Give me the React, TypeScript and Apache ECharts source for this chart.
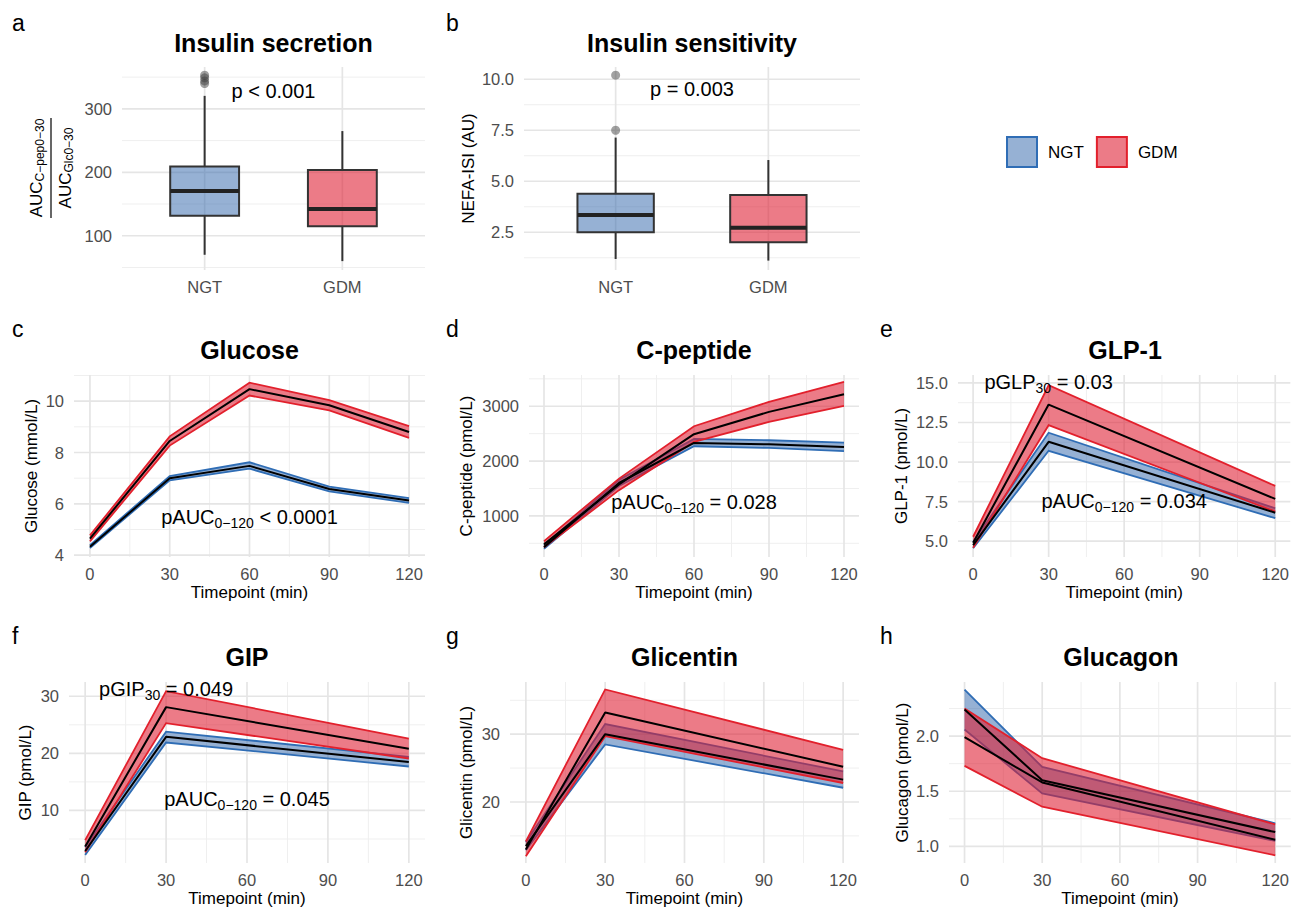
import React, { useEffect, useRef } from 'react';
import * as echarts from 'echarts';

const FONT = '"Liberation Sans", Arial, Helvetica, sans-serif';
const GROUPS = ['NGT', 'GDM'];

// ---- a. Insulin secretion: [lower whisker, Q1, median, Q3, upper whisker]
const secretionNGT = [70, 131.5, 170.4, 209.3, 320.5];
const secretionGDM = [60, 115, 142, 203.5, 265];
const secretionOutliersNGT = [340, 344, 349, 353];
// ---- b. Insulin sensitivity
const sensitivityNGT = [1.19, 2.5, 3.35, 4.39, 7.14];
const sensitivityGDM = [1.11, 2.01, 2.72, 4.33, 6.04];
const sensitivityOutliersNGT = [7.5, 10.2];

// ---- time courses
const timeFull = [0, 30, 60, 90, 120];
const timeShort = [0, 30, 120];

// c. Glucose (mmol/L)
const glucoseNGTMean = [4.33, 7.0, 7.48, 6.58, 6.13];
const glucoseNGTLow = [4.28, 6.92, 7.37, 6.49, 6.04];
const glucoseNGTHigh = [4.39, 7.08, 7.62, 6.67, 6.22];
const glucoseGDMMean = [4.65, 8.45, 10.47, 9.84, 8.8];
const glucoseGDMLow = [4.54, 8.27, 10.22, 9.64, 8.57];
const glucoseGDMHigh = [4.77, 8.63, 10.72, 10.04, 9.03];

// d. C-peptide (pmol/L)
const cpepNGTMean = [430, 1600, 2330, 2305, 2258];
const cpepNGTLow = [400, 1545, 2270, 2240, 2180];
const cpepNGTHigh = [462, 1660, 2405, 2380, 2338];
const cpepGDMMean = [480, 1575, 2490, 2897, 3219];
const cpepGDMLow = [425, 1470, 2350, 2715, 3006];
const cpepGDMHigh = [540, 1680, 2636, 3080, 3444];

// e. GLP-1 (pmol/L)
const glp1NGTMean = [4.75, 11.28, 6.8];
const glp1NGTLow = [4.55, 10.71, 6.45];
const glp1NGTHigh = [4.95, 11.85, 7.08];
const glp1GDMMean = [4.9, 13.63, 7.67];
const glp1GDMLow = [4.58, 12.33, 6.87];
const glp1GDMHigh = [5.28, 14.85, 8.49];

// f. GIP (pmol/L)
const gipNGTMean = [2.9, 22.9, 18.5];
const gipNGTLow = [2.2, 21.9, 17.7];
const gipNGTHigh = [3.6, 23.8, 19.4];
const gipGDMMean = [3.7, 28.1, 20.8];
const gipGDMLow = [2.7, 25.3, 19.1];
const gipGDMHigh = [4.8, 30.9, 22.6];

// g. Glicentin (pmol/L)
const glicentinNGTMean = [13.5, 30.0, 23.3];
const glicentinNGTLow = [12.9, 28.5, 22.1];
const glicentinNGTHigh = [14.1, 31.5, 24.5];
const glicentinGDMMean = [13.0, 33.2, 25.2];
const glicentinGDMLow = [12.0, 29.7, 22.8];
const glicentinGDMHigh = [14.2, 36.6, 27.7];

// h. Glucagon (pmol/L)
const glucagonNGTMean = [2.24, 1.6, 1.13];
const glucagonNGTLow = [2.06, 1.48, 1.05];
const glucagonNGTHigh = [2.42, 1.72, 1.21];
const glucagonGDMMean = [1.99, 1.58, 1.06];
const glucagonGDMLow = [1.73, 1.36, 0.92];
const glucagonGDMHigh = [2.25, 1.8, 1.2];

// ---- tick labels
const timeTicks = [0, 30, 60, 90, 120];
const secretionTicks = [100, 200, 300];
const sensitivityTicks = [2.5, 5, 7.5, 10];
const glucoseTicks = [4, 6, 8, 10];
const cpepTicks = [1000, 2000, 3000];
const glp1Ticks = [5, 7.5, 10, 12.5, 15];
const gipTicks = [10, 20, 30];
const glicentinTicks = [20, 30];
const glucagonTicks = [1, 1.5, 2];

const NGT_FILL = 'rgba(45,100,170,0.5)';
const NGT_LINE = '#2f6db5';
const GDM_FILL = 'rgba(222,28,48,0.58)';
const GDM_LINE = '#e2202c';

const SUB = '\u2212';

const RICH = {
  s: { fontSize: 14, fontFamily: FONT, fill: '#000', color: '#000', padding: [12, 0, 0, 0] },
};
const RICH_AXIS = {
  m: { fontSize: 17, fontFamily: FONT, fill: '#000', color: '#000' },
  s: { fontSize: 12, fontFamily: FONT, fill: '#000', color: '#000', padding: [8, 0, 0, 0] },
};

function minorOf(ticks: number[], range: number[]) {
  const d = ticks[1] - ticks[0];
  const ext = [ticks[0] - d, ...ticks, ticks[ticks.length - 1] + d];
  const out: number[] = [];
  for (let i = 0; i < ext.length - 1; i++) {
    const m = (ext[i] + ext[i + 1]) / 2;
    if (m >= range[0] && m <= range[1]) out.push(m);
  }
  return out;
}

function decimalsOf(ticks: number[]) {
  return ticks.some((t) => Math.round(t) !== t) ? 1 : 0;
}

type Panel = {
  letter: string;
  title: string;
  rect: number[];
  xr: number[];
  yr: number[];
  yTicks: number[];
  yName: string;
  nameGap: number;
  box?: boolean;
};

const panels: Panel[] = [
  { letter: 'a', title: 'Insulin secretion', rect: [122, 67, 303, 203], xr: [0.4, 2.6], yr: [46, 366], yTicks: secretionTicks, yName: '', nameGap: 0, box: true },
  { letter: 'b', title: 'Insulin sensitivity', rect: [524, 67, 336, 203], xr: [0.4, 2.6], yr: [0.65, 10.6], yTicks: sensitivityTicks, yName: 'NEFA-ISI (AU)', nameGap: 47, box: true },
  { letter: 'c', title: 'Glucose', rect: [74, 375, 351, 182], xr: [-6, 126], yr: [3.93, 11.02], yTicks: glucoseTicks, yName: 'Glucose (mmol/L)', nameGap: 34 },
  { letter: 'd', title: 'C-peptide', rect: [529, 375, 330, 182], xr: [-6, 126], yr: [250, 3570], yTicks: cpepTicks, yName: 'C-peptide (pmol/L)', nameGap: 54 },
  { letter: 'e', title: 'GLP-1', rect: [958, 375, 334, 182], xr: [-6, 126], yr: [4.0, 15.5], yTicks: glp1Ticks, yName: 'GLP-1 (pmol/L)', nameGap: 48 },
  { letter: 'f', title: 'GIP', rect: [69, 682, 356, 181], xr: [-6, 126], yr: [0.8, 32.5], yTicks: gipTicks, yName: 'GIP (pmol/L)', nameGap: 35 },
  { letter: 'g', title: 'Glicentin', rect: [510, 682, 349, 181], xr: [-6, 126], yr: [11.0, 37.7], yTicks: glicentinTicks, yName: 'Glicentin (pmol/L)', nameGap: 35 },
  { letter: 'h', title: 'Glucagon', rect: [949, 682, 344, 181], xr: [-6, 126], yr: [0.85, 2.49], yTicks: glucagonTicks, yName: 'Glucagon (pmol/L)', nameGap: 38 },
];

const LETTER_X = [12, 446, 880];
const ROW_LETTER_Y = [23, 329, 636];
const ROW_TITLE_Y = [43, 350, 657];

function gridlineSeries(gi: number, p: Panel) {
  const vMajor = p.box ? [1, 2] : timeTicks;
  const vMinor = p.box ? [] : minorOf(timeTicks, p.xr);
  const hMajor = p.yTicks;
  const hMinor = minorOf(p.yTicks, p.yr);
  const data = [
    ...vMinor.map((v) => [v, 0, 0]),
    ...hMinor.map((v) => [v, 1, 0]),
    ...vMajor.map((v) => [v, 0, 1]),
    ...hMajor.map((v) => [v, 1, 1]),
  ];
  return {
    type: 'custom',
    xAxisIndex: gi,
    yAxisIndex: gi,
    silent: true,
    z: 0,
    data,
    renderItem: (params: any, api: any) => {
      const v = api.value(0);
      const o = api.value(1);
      const m = api.value(2);
      const a = o === 0 ? api.coord([v, p.yr[0]]) : api.coord([p.xr[0], v]);
      const b = o === 0 ? api.coord([v, p.yr[1]]) : api.coord([p.xr[1], v]);
      return {
        type: 'line',
        shape: { x1: a[0], y1: a[1], x2: b[0], y2: b[1] },
        style: { stroke: m ? '#e5e5e5' : '#efefef', lineWidth: m ? 1.7 : 1 },
      };
    },
  };
}

function ribbonSeries(gi: number, name: string, t: number[], lo: number[], hi: number[], fill: string, stroke: string) {
  return {
    type: 'custom',
    name,
    xAxisIndex: gi,
    yAxisIndex: gi,
    silent: true,
    z: 2,
    itemStyle: { color: fill, borderColor: stroke },
    data: t.map((x, i) => [x, lo[i], hi[i]]),
    renderItem: (params: any, api: any) => {
      if (params.dataIndex !== 0) return null;
      const up = t.map((x, i) => api.coord([x, hi[i]]));
      const dn = t.map((x, i) => api.coord([x, lo[i]]));
      return {
        type: 'group',
        children: [
          { type: 'polygon', shape: { points: up.concat(dn.slice().reverse()) }, style: { fill, stroke: 'none' } },
          { type: 'polyline', shape: { points: up }, style: { stroke, lineWidth: 1.8, fill: 'none' } },
          { type: 'polyline', shape: { points: dn }, style: { stroke, lineWidth: 1.8, fill: 'none' } },
        ],
      };
    },
  };
}

function meanSeries(gi: number, t: number[], mean: number[]) {
  return {
    type: 'line',
    xAxisIndex: gi,
    yAxisIndex: gi,
    silent: true,
    z: 3,
    symbol: 'none',
    lineStyle: { color: '#000', width: 2 },
    data: t.map((x, i) => [x, mean[i]]),
  };
}

function boxSeries(gi: number, name: string, x: number, stats: number[], fill: string, border: string) {
  return {
    type: 'custom',
    name,
    xAxisIndex: gi,
    yAxisIndex: gi,
    silent: true,
    z: 2,
    itemStyle: { color: fill, borderColor: border },
    data: [[x, ...stats]],
    renderItem: (params: any, api: any) => {
      const cx = api.value(0);
      const lo = api.value(1), q1 = api.value(2), med = api.value(3), q3 = api.value(4), hi = api.value(5);
      const hw = 0.25;
      const tl = api.coord([cx - hw, q3]);
      const br = api.coord([cx + hw, q1]);
      const ml = api.coord([cx - hw, med]);
      const mr = api.coord([cx + hw, med]);
      const pLo = api.coord([cx, lo]);
      const pQ1 = api.coord([cx, q1]);
      const pQ3 = api.coord([cx, q3]);
      const pHi = api.coord([cx, hi]);
      const ws = { stroke: '#333', lineWidth: 2 };
      return {
        type: 'group',
        children: [
          { type: 'line', shape: { x1: pHi[0], y1: pHi[1], x2: pQ3[0], y2: pQ3[1] }, style: ws },
          { type: 'line', shape: { x1: pQ1[0], y1: pQ1[1], x2: pLo[0], y2: pLo[1] }, style: ws },
          { type: 'rect', shape: { x: tl[0], y: tl[1], width: br[0] - tl[0], height: br[1] - tl[1] }, style: { fill, stroke: '#333', lineWidth: 2 } },
          { type: 'line', shape: { x1: ml[0], y1: ml[1], x2: mr[0], y2: mr[1] }, style: { stroke: '#222', lineWidth: 4 } },
        ],
      };
    },
  };
}

function outlierSeries(gi: number, x: number, values: number[]) {
  return {
    type: 'scatter',
    xAxisIndex: gi,
    yAxisIndex: gi,
    silent: true,
    z: 3,
    symbolSize: 9,
    itemStyle: { color: 'rgba(60,60,60,0.6)' },
    data: values.map((v) => [x, v]),
  };
}

function annotSeries(gi: number, x: number, y: number, text: string) {
  return {
    type: 'custom',
    xAxisIndex: gi,
    yAxisIndex: gi,
    silent: true,
    z: 5,
    data: [[x, y]],
    renderItem: (params: any, api: any) => {
      const p = api.coord([api.value(0), api.value(1)]);
      return {
        type: 'text',
        x: p[0],
        y: p[1],
        style: {
          text,
          rich: RICH,
          fontSize: 20,
          fontFamily: FONT,
          fill: '#000',
          align: 'center',
          verticalAlign: 'middle',
        },
      };
    },
  };
}

function buildOption() {
  const grid: any[] = [];
  const xAxis: any[] = [];
  const yAxis: any[] = [];
  const series: any[] = [];
  const graphic: any[] = [];

  panels.forEach((p, gi) => {
    const [l, t, w, h] = p.rect;
    grid.push({ left: l, top: t, width: w, height: h, containLabel: false });
    const labelStyle = { color: '#4d4d4d', fontSize: 16.5, fontFamily: FONT };
    xAxis.push({
      gridIndex: gi,
      type: 'value',
      min: p.xr[0],
      max: p.xr[1],
      axisLine: { show: false },
      axisTick: { show: false },
      splitLine: { show: false },
      axisLabel: {
        ...labelStyle,
        margin: 8,
        customValues: p.box ? [1, 2] : timeTicks,
        formatter: p.box ? (v: number) => GROUPS[Math.round(v) - 1] : (v: number) => String(v),
      },
      name: p.box ? '' : 'Timepoint (min)',
      nameLocation: 'middle',
      nameGap: 27,
      nameTextStyle: { color: '#000', fontSize: 17, fontFamily: FONT },
    });
    const dec = decimalsOf(p.yTicks);
    yAxis.push({
      gridIndex: gi,
      type: 'value',
      min: p.yr[0],
      max: p.yr[1],
      axisLine: { show: false },
      axisTick: { show: false },
      splitLine: { show: false },
      axisLabel: {
        ...labelStyle,
        margin: 10,
        customValues: p.yTicks,
        formatter: (v: number) => v.toFixed(dec),
      },
      name: p.yName,
      nameLocation: 'middle',
      nameGap: p.nameGap,
      nameTextStyle: { color: '#000', fontSize: 17, fontFamily: FONT },
    });
    series.push(gridlineSeries(gi, p));

    const row = gi < 2 ? 0 : gi < 5 ? 1 : 2;
    const col = gi < 2 ? gi : gi < 5 ? gi - 2 : gi - 5;
    graphic.push({
      type: 'text',
      x: LETTER_X[col],
      y: ROW_LETTER_Y[row],
      style: { text: p.letter, fontSize: 23, fontFamily: FONT, fill: '#000', align: 'left', verticalAlign: 'middle' },
    });
    graphic.push({
      type: 'text',
      x: l + w / 2,
      y: ROW_TITLE_Y[row],
      style: { text: p.title, fontSize: 25, fontWeight: 'bold', fontFamily: FONT, fill: '#000', align: 'center', verticalAlign: 'middle' },
    });
  });

  // a
  series.push(boxSeries(0, 'NGT', 1, secretionNGT, NGT_FILL, NGT_LINE));
  series.push(boxSeries(0, 'GDM', 2, secretionGDM, GDM_FILL, GDM_LINE));
  series.push(outlierSeries(0, 1, secretionOutliersNGT));
  series.push(annotSeries(0, 1.5, 328, 'p < 0.001'));
  // b
  series.push(boxSeries(1, 'NGT', 1, sensitivityNGT, NGT_FILL, NGT_LINE));
  series.push(boxSeries(1, 'GDM', 2, sensitivityGDM, GDM_FILL, GDM_LINE));
  series.push(outlierSeries(1, 1, sensitivityOutliersNGT));
  series.push(annotSeries(1, 1.5, 9.5, 'p = 0.003'));

  const curves = [
    { gi: 2, t: timeFull, n: [glucoseNGTMean, glucoseNGTLow, glucoseNGTHigh], g: [glucoseGDMMean, glucoseGDMLow, glucoseGDMHigh] },
    { gi: 3, t: timeFull, n: [cpepNGTMean, cpepNGTLow, cpepNGTHigh], g: [cpepGDMMean, cpepGDMLow, cpepGDMHigh] },
    { gi: 4, t: timeShort, n: [glp1NGTMean, glp1NGTLow, glp1NGTHigh], g: [glp1GDMMean, glp1GDMLow, glp1GDMHigh] },
    { gi: 5, t: timeShort, n: [gipNGTMean, gipNGTLow, gipNGTHigh], g: [gipGDMMean, gipGDMLow, gipGDMHigh] },
    { gi: 6, t: timeShort, n: [glicentinNGTMean, glicentinNGTLow, glicentinNGTHigh], g: [glicentinGDMMean, glicentinGDMLow, glicentinGDMHigh] },
    { gi: 7, t: timeShort, n: [glucagonNGTMean, glucagonNGTLow, glucagonNGTHigh], g: [glucagonGDMMean, glucagonGDMLow, glucagonGDMHigh] },
  ];
  curves.forEach((c) => {
    series.push(ribbonSeries(c.gi, 'NGT', c.t, c.n[1], c.n[2], NGT_FILL, NGT_LINE));
    series.push(ribbonSeries(c.gi, 'GDM', c.t, c.g[1], c.g[2], GDM_FILL, GDM_LINE));
    series.push(meanSeries(c.gi, c.t, c.n[0]));
    series.push(meanSeries(c.gi, c.t, c.g[0]));
  });

  series.push(annotSeries(2, 60, 5.5, `pAUC{s|0${SUB}120} < 0.0001`));
  series.push(annotSeries(3, 60, 1250, `pAUC{s|0${SUB}120} = 0.028`));
  series.push(annotSeries(4, 30, 15.05, 'pGLP{s|30} = 0.03'));
  series.push(annotSeries(4, 60, 7.55, `pAUC{s|0${SUB}120} = 0.034`));
  series.push(annotSeries(5, 30, 31.2, 'pGIP{s|30} = 0.049'));
  series.push(annotSeries(5, 60, 12, `pAUC{s|0${SUB}120} = 0.045`));

  // panel a fraction axis title
  graphic.push({
    type: 'group',
    x: 51,
    y: 168,
    rotation: Math.PI / 2,
    children: [
      { type: 'line', shape: { x1: -50, y1: 0, x2: 50, y2: 0 }, style: { stroke: '#000', lineWidth: 1.2 } },
      {
        type: 'text',
        x: 0,
        y: -15,
        style: { text: `{m|AUC}{s|C${SUB}pep0${SUB}30}`, rich: RICH_AXIS, fontSize: 17, fontFamily: FONT, fill: '#000', align: 'center', verticalAlign: 'middle' },
      },
      {
        type: 'text',
        x: 0,
        y: 14,
        style: { text: `{m|AUC}{s|Glc0${SUB}30}`, rich: RICH_AXIS, fontSize: 17, fontFamily: FONT, fill: '#000', align: 'center', verticalAlign: 'middle' },
      },
    ],
  });

  return {
    animation: false,
    backgroundColor: '#ffffff',
    textStyle: { fontFamily: FONT },
    grid,
    xAxis,
    yAxis,
    series,
    graphic,
    legend: {
      left: 1006,
      top: 136,
      padding: 0,
      itemWidth: 30,
      itemHeight: 30,
      itemGap: 12,
      selectedMode: false,
      textStyle: { fontSize: 17, color: '#000', fontFamily: FONT, padding: [0, 0, 0, 6] },
      data: [
        { name: 'NGT', icon: 'rect', itemStyle: { color: NGT_FILL, borderColor: NGT_LINE, borderWidth: 2 } },
        { name: 'GDM', icon: 'rect', itemStyle: { color: GDM_FILL, borderColor: GDM_LINE, borderWidth: 2 } },
      ],
    },
  };
}

export default function App() {
  const ref = useRef<HTMLDivElement>(null);
  useEffect(() => {
    if (!ref.current) return;
    const chart = echarts.init(ref.current, undefined, { renderer: 'svg' });
    chart.setOption(buildOption() as any);
    return () => chart.dispose();
  }, []);
  return (
    <div
      ref={ref}
      style={{ position: 'absolute', left: 0, top: 0, width: 1292, height: 911, background: '#fff' }}
    />
  );
}
